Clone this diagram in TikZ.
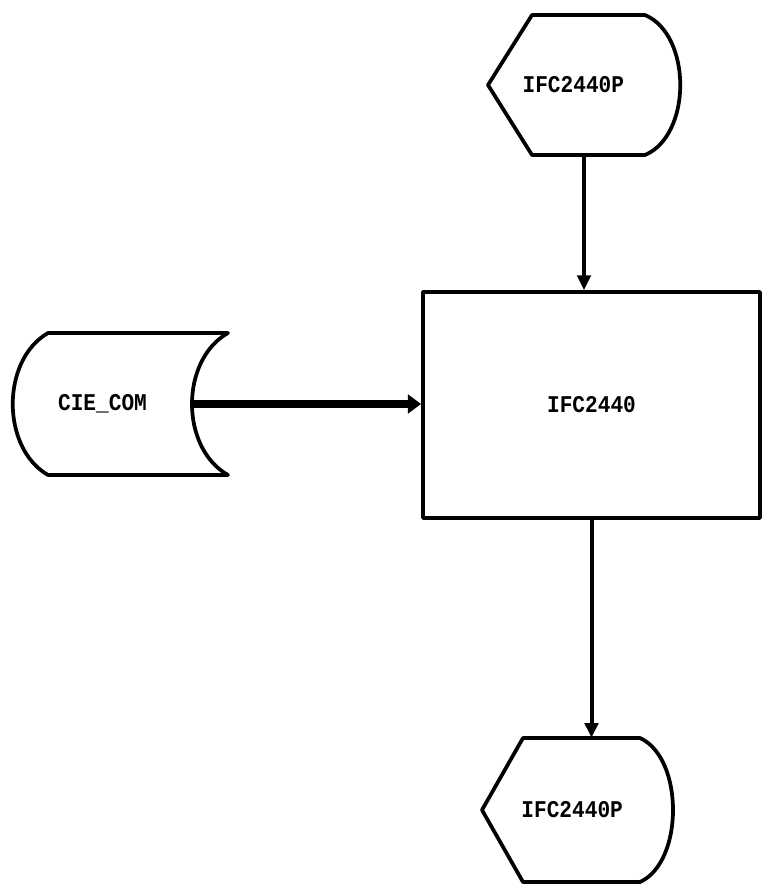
\documentclass[tikz,border=0pt]{standalone}
\usepackage{fontspec}
\setmonofont[FakeStretch=0.88]{Liberation Mono}
\usetikzlibrary{arrows.meta}

\tikzset{
  lbl/.style={inner sep=0pt, font=\ttfamily\bfseries\fontsize{18}{20}\selectfont},
  outline/.style={line width=2.8pt, line join=round},
  flow/.style={line width=3pt, -{Triangle[length=11pt,width=10pt]}},
  bigflow/.style={line width=6.5pt, -{Triangle[length=10pt,width=14pt]}}
}

\begin{document}
\begin{tikzpicture}[x=0.75pt,y=-0.75pt]
\useasboundingbox (0,0) rectangle (762,886);

% Shapes (named by their bounding boxes)
\node[lbl, minimum width=144pt, minimum height=105pt] (top) at (584,85) {\hspace*{-16pt}IFC2440P};
\node[lbl, draw, outline, minimum width=252.75pt, minimum height=169.5pt] (proc) at (591.5,405) {IFC2440};
\node[lbl, minimum width=134.25pt, minimum height=106.5pt] (cie) at (102.5,404) {CIE\_COM};
\node[lbl, minimum width=143.25pt, minimum height=108pt] (bot) at (577.5,810) {\hspace*{-8pt}IFC2440P};

% Display outlines
\draw[outline] (532,15) -- (645,15) .. controls (692,35) and (692,135) .. (645,155)
  -- (532,155) -- (488,85) -- cycle;
\draw[outline] (523,738) -- (640,738) .. controls (684,758) and (684,862) .. (640,882)
  -- (523,882) -- (482,810) -- cycle;

% Stored data outline
\draw[outline] (48,333) -- (228,333) .. controls (180,360) and (180,448) .. (228,475)
  -- (48,475) .. controls (1,448) and (1,360) .. (48,333) -- cycle;

% Arrows
\draw[flow] (top.south) -- (top.south |- proc.north);
\draw[flow] (proc.south) -- (proc.south |- bot.north);
\draw[bigflow] (cie.east) -- (cie.east -| proc.west);

\end{tikzpicture}
\end{document}
